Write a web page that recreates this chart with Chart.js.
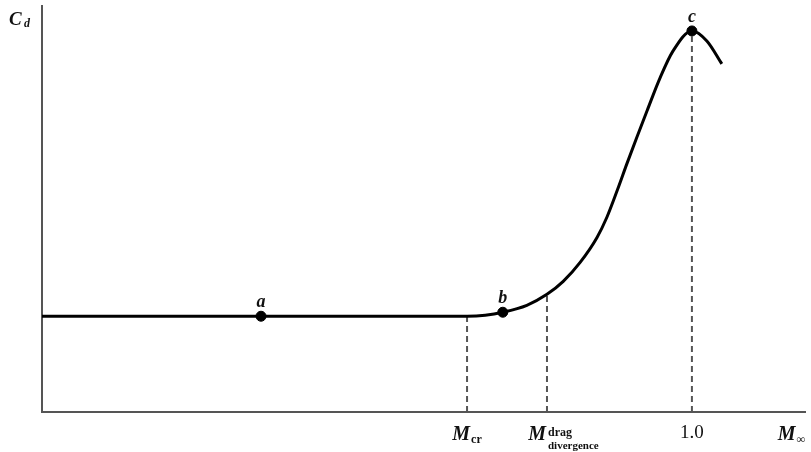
<!DOCTYPE html>
<html>
<head>
<meta charset="utf-8">
<script src="https://cdn.jsdelivr.net/npm/chart.js@4/dist/chart.umd.min.js"></script>
<style>
  body { margin: 0; background: #fff; }
  #wrap { width: 811px; height: 452px; }
</style>
</head>
<body>
<div id="wrap"><canvas id="dragChart"></canvas></div>
<script>
// drag coefficient vs free-stream Mach number
var machValues = [0, 0.337, 0.654, 0.682, 0.709, 0.746, 0.777, 0.802, 0.828, 0.854, 0.869, 0.885, 0.900, 0.915, 0.931, 0.951, 0.971, 1.0, 1.023, 1.046];
var cdValues   = [0.96, 0.96, 0.96, 0.97, 1.00, 1.07, 1.18, 1.31, 1.50, 1.75, 1.95, 2.22, 2.49, 2.75, 3.02, 3.35, 3.62, 3.82, 3.72, 3.49];

// labelled points a, b, c
var markerNames = ['a', 'b', 'c'];
var markerMach  = [0.337, 0.709, 1.0];
var markerCd    = [0.96, 1.00, 3.82];

// dashed drop lines: M_cr, M_drag divergence, 1.0
var dashMach = [0.654, 0.777, 1.0];
var dashTop  = [0.96, 1.18, 3.82];

// tick labels on the Mach axis
var tickMain = ['M', 'M', '1.0', 'M'];
var tickSub  = ['cr', 'drag', '', '\u221e'];
var tickMach = [0.654, 0.777, 1.0, 1.153];

var serif = '"Liberation Serif", "DejaVu Serif", serif';

var datasets = [{
    data: machValues.map(function (m, i) { return { x: m, y: cdValues[i] }; }),
    borderColor: '#000',
    borderWidth: 3,
    pointRadius: 0,
    cubicInterpolationMode: 'monotone',
    fill: false
}];

dashMach.forEach(function (m, i) {
    datasets.push({
        data: [{ x: m, y: 0 }, { x: m, y: dashTop[i] }],
        borderColor: '#555',
        borderWidth: 2,
        borderDash: [6, 4],
        pointRadius: 0,
        fill: false
    });
});

datasets.push({
    type: 'scatter',
    data: markerMach.map(function (m, i) { return { x: m, y: markerCd[i] }; }),
    backgroundColor: '#000',
    borderColor: '#000',
    pointRadius: 5
});

function drawSub(ctx, main, sub, cx, base) {
    ctx.font = 'italic bold 20px ' + serif;
    var w1 = ctx.measureText(main).width;
    ctx.font = 'bold 12px ' + serif;
    var w2 = sub ? ctx.measureText(sub).width + 1 : 0;
    var left = cx - (w1 + w2) / 2;
    ctx.font = 'italic bold 20px ' + serif;
    ctx.fillText(main, left, base);
    if (sub) {
        ctx.font = 'bold 12px ' + serif;
        ctx.fillText(sub, left + w1 + 1, base + 3);
    }
}

var labelPlugin = {
    id: 'labelPlugin',
    afterDraw: function (chart) {
        var ctx = chart.ctx;
        var x = chart.scales.x, y = chart.scales.y;
        ctx.save();
        ctx.fillStyle = '#111';
        ctx.textBaseline = 'alphabetic';

        // point names
        ctx.font = 'italic bold 18px ' + serif;
        ctx.textAlign = 'center';
        markerNames.forEach(function (n, i) {
            ctx.fillText(n, x.getPixelForValue(markerMach[i]), y.getPixelForValue(markerCd[i]) - 9);
        });

        // axis tick labels
        var base = y.bottom + 28;
        tickMain.forEach(function (t, i) {
            var px = x.getPixelForValue(tickMach[i]);
            ctx.textAlign = 'left';
            if (t === '1.0') {
                ctx.textAlign = 'center';
                ctx.font = '19px ' + serif;
                ctx.fillText(t, px, base - 2);
            } else if (tickSub[i] === 'drag') {
                ctx.font = 'italic bold 20px ' + serif;
                var w = ctx.measureText('M').width;
                ctx.fillText('M', px - w - 1, base);
                ctx.font = 'bold 12px ' + serif;
                ctx.fillText('drag', px + 1, base - 4);
                ctx.font = 'bold 11px ' + serif;
                ctx.fillText('divergence', px + 1, base + 9);
            } else {
                drawSub(ctx, t, tickSub[i], px, base);
            }
        });

        // y axis title
        ctx.textAlign = 'left';
        ctx.font = 'italic bold 19px ' + serif;
        ctx.fillText('C', 9, 25);
        ctx.font = 'italic bold 12px ' + serif;
        ctx.fillText('d', 24, 27);
        ctx.restore();
    }
};

new Chart(document.getElementById('dragChart'), {
    type: 'line',
    data: { datasets: datasets },
    plugins: [labelPlugin],
    options: {
        responsive: true,
        maintainAspectRatio: false,
        animation: false,
        layout: { padding: { left: 42, top: 5, right: 0, bottom: 40 } },
        plugins: { legend: { display: false }, tooltip: { enabled: false } },
        scales: {
            x: {
                type: 'linear',
                min: 0,
                max: 1.174,
                ticks: { display: false },
                grid: { display: false, drawTicks: false, tickLength: 0 },
                border: { color: '#555', width: 2 }
            },
            y: {
                type: 'linear',
                min: 0,
                max: 4.07,
                ticks: { display: false },
                grid: { display: false, drawTicks: false, tickLength: 0 },
                border: { color: '#555', width: 2 }
            }
        }
    }
});
</script>
</body>
</html>
